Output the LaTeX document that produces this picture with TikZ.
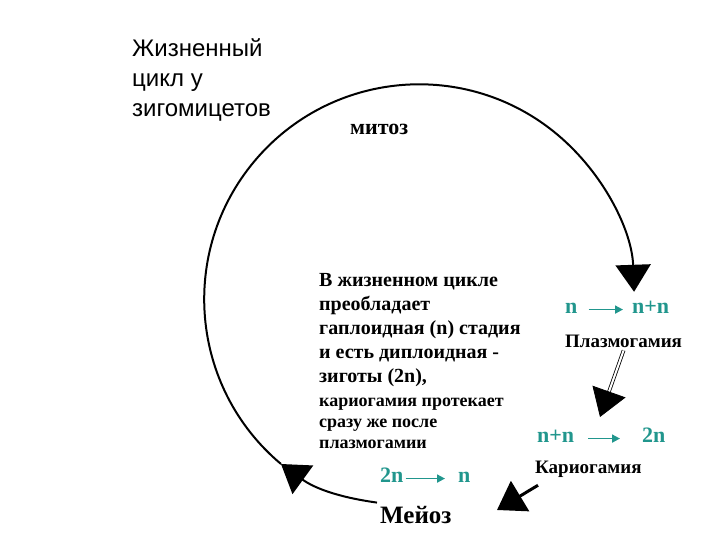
\documentclass[tikz,border=0pt]{standalone}
\usepackage{fontspec}
\setmainfont{Liberation Serif}
\newfontfamily\titlefont{Liberation Sans}
\usepackage{xcolor}
\definecolor{ploidyteal}{HTML}{21968D}
\usepackage{tikz}
\usetikzlibrary{arrows.meta}
\tikzset{
    cyc_title/.style={font=\titlefont\fontsize{24}{30}\selectfont, align=left, anchor=base west, inner sep=3pt},
    cyc_phase/.style={font=\bfseries\fontsize{22}{26}\selectfont, anchor=base west, inner sep=3pt},
    cyc_note/.style={font=\bfseries\fontsize{20}{24}\selectfont, align=left, anchor=base west, inner sep=3pt},
    cyc_note_small/.style={font=\bfseries\fontsize{18}{21}\selectfont, align=left, anchor=base west, inner sep=3pt},
    cyc_label/.style={font=\bfseries\fontsize{19}{23}\selectfont, anchor=base west, inner sep=3pt},
    cyc_ploidy/.style={text=ploidyteal, font=\bfseries\fontsize{22}{26}\selectfont, anchor=base west, inner sep=0pt, text height=1.5ex, text depth=0pt},
    cyc_shift/.style={draw=ploidyteal, line width=1.8pt, -{Triangle[length=8pt,width=8pt]}},
    cyc_arc/.style={draw=black, line width=2pt, -{Triangle[length=27pt,width=35pt]}}
}
\begin{document}
\begin{tikzpicture}[x=1pt, y=-1pt]
\useasboundingbox (0,0) rectangle (720,540);
\node[cyc_title] (title) at (129,117) {Жизненный\\цикл у\\зигомицетов};
\node[cyc_phase] (mitosis) at (347,135) {митоз};
\node[cyc_note] (desc) at (316,382) {В жизненном цикле\\преобладает\\гаплоидная (n) стадия\\и есть диплоидная -\\зиготы (2n),};
\node[cyc_note_small] (desc2) at (316,448) {кариогамия протекает\\сразу же после\\плазмогамии};
\node[cyc_ploidy] (n1) at (565,313) {n};
\node[cyc_ploidy] (nn1) at (632,313) {n+n};
\node[cyc_label] (plasmo) at (562,347) {Плазмогамия};
\node[cyc_ploidy] (nn2) at (537,442) {n+n};
\node[cyc_ploidy] (tn2) at (642,442) {2n};
\node[cyc_label] (kario) at (532,473) {Кариогамия};
\node[cyc_ploidy] (tn3) at (380,482) {2n};
\node[cyc_ploidy] (n3) at (458,482) {n};
\node[cyc_phase, font=\bfseries\fontsize{25}{30}\selectfont] (meioz) at (377,523) {Мейоз};

\coordinate (meiend) at (281,464);
\coordinate (plasend) at (600,417);
\coordinate (karend) at (497,510);

\draw[cyc_shift, shorten <=11pt, shorten >=9pt] (n1.east) -- (n1.east -| nn1.west);
\draw[cyc_shift, shorten <=14pt, shorten >=22pt] (nn2.east) -- (nn2.east -| tn2.west);
\draw[cyc_shift, shorten <=2pt, shorten >=13pt] (tn3.east) -- (tn3.east -| n3.west);

\draw[cyc_arc] (meioz.north west) to[bend left=14] (meiend);
\draw[cyc_arc] (meiend) arc[start angle=130, end angle=358, radius=215];
\draw[cyc_arc, double, double distance=2pt, line width=0.8pt] (plasmo.south) -- (plasend);
\draw[cyc_arc, line width=3pt] ([shift={(6pt,-5pt)}]kario.south west) -- (karend);
\end{tikzpicture}
\end{document}
